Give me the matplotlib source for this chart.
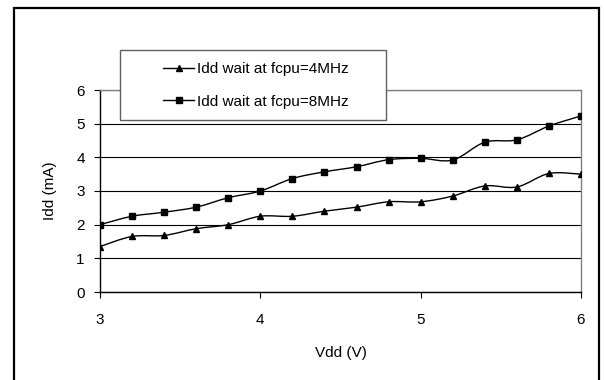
import numpy as np
import matplotlib
matplotlib.use("Agg")
import matplotlib.pyplot as plt
from matplotlib.path import Path
from matplotlib.patches import PathPatch, Rectangle
from matplotlib.lines import Line2D

plt.rcParams["font.family"] = ["Liberation Sans", "DejaVu Sans"]
plt.rcParams["font.size"] = 11

# data
vdd = [3.0, 3.2, 3.4, 3.6, 3.8, 4.0, 4.2, 4.4, 4.6, 4.8, 5.0, 5.2, 5.4, 5.6, 5.8, 6.0]
idd_4mhz = [1.35, 1.65, 1.68, 1.88, 2.0, 2.25, 2.25, 2.4, 2.52, 2.68, 2.68, 2.85, 3.15, 3.12, 3.52, 3.5]
idd_8mhz = [2.0, 2.25, 2.37, 2.52, 2.8, 3.0, 3.37, 3.57, 3.72, 3.93, 3.97, 3.92, 4.45, 4.52, 4.93, 5.23]
labels = ["Idd wait at fcpu=4MHz", "Idd wait at fcpu=8MHz"]
markers = ["^", "s"]
xticks = [3, 4, 5, 6]
yticks = [0, 1, 2, 3, 4, 5, 6]


def smooth_path(x, y):
    # bezier segments like a spreadsheet "smoothed line"
    p = np.column_stack([x, y])
    n = len(p)
    verts = [p[0]]
    codes = [Path.MOVETO]
    for i in range(n - 1):
        p0 = p[max(i - 1, 0)]
        p1 = p[i]
        p2 = p[i + 1]
        p3 = p[min(i + 2, n - 1)]
        c1 = p1 + (p2 - p0) / 6
        c2 = p2 - (p3 - p1) / 6
        verts += [c1, c2, p2]
        codes += [Path.CURVE4] * 3
    return Path(verts, codes)


fig = plt.figure(figsize=(6.05, 3.8), dpi=100)
ax = fig.add_axes([100 / 605, 1 - 292 / 380, 481 / 605, 202 / 380])

for ys, m in zip([idd_4mhz, idd_8mhz], markers):
    ax.add_patch(PathPatch(smooth_path(vdd, ys), facecolor="none",
                           edgecolor="black", lw=1.0, zorder=3))
    ax.plot(vdd, ys, linestyle="none", marker=m, color="black",
            markersize=5, zorder=4)

ax.set_xlim(3, 6)
ax.set_ylim(0, 6)
ax.set_xticks(xticks)
ax.set_yticks(yticks)
ax.yaxis.grid(True, color="black", lw=0.8)
ax.set_axisbelow(True)
for s in ["top", "right"]:
    ax.spines[s].set_color("#808080")
    ax.spines[s].set_linewidth(1.0)
for s in ["left", "bottom"]:
    ax.spines[s].set_color("black")
    ax.spines[s].set_linewidth(1.0)
ax.tick_params(axis="y", direction="out", length=4, width=0.8, pad=7)
ax.tick_params(axis="x", direction="out", length=4, width=0.8, pad=11)
ax.set_xlabel("Vdd (V)", labelpad=14)
ax.set_ylabel("Idd (mA)", labelpad=14)

# legend box
fig.patches.append(Rectangle((120 / 605, 1 - 120 / 380), 266 / 605, 70 / 380,
                             transform=fig.transFigure, facecolor="white",
                             edgecolor="#606060", lw=1.0, zorder=5))
handles = [Line2D([], [], color="black", lw=1.0, marker=m, markersize=5)
           for m in markers]
leg = fig.legend(handles, labels, loc="center", frameon=False,
                 bbox_to_anchor=(256 / 605, 1 - 85.5 / 380),
                 handlelength=2.0, handletextpad=0.2, labelspacing=1.2)
leg.set_zorder(6)

# outer border
fig.patches.append(Rectangle((14 / 605, -0.05), 585 / 605, 1.05 - 8 / 380,
                             transform=fig.transFigure, facecolor="none",
                             edgecolor="black", lw=1.6, zorder=0))

fig.savefig("out.png", dpi=100)
